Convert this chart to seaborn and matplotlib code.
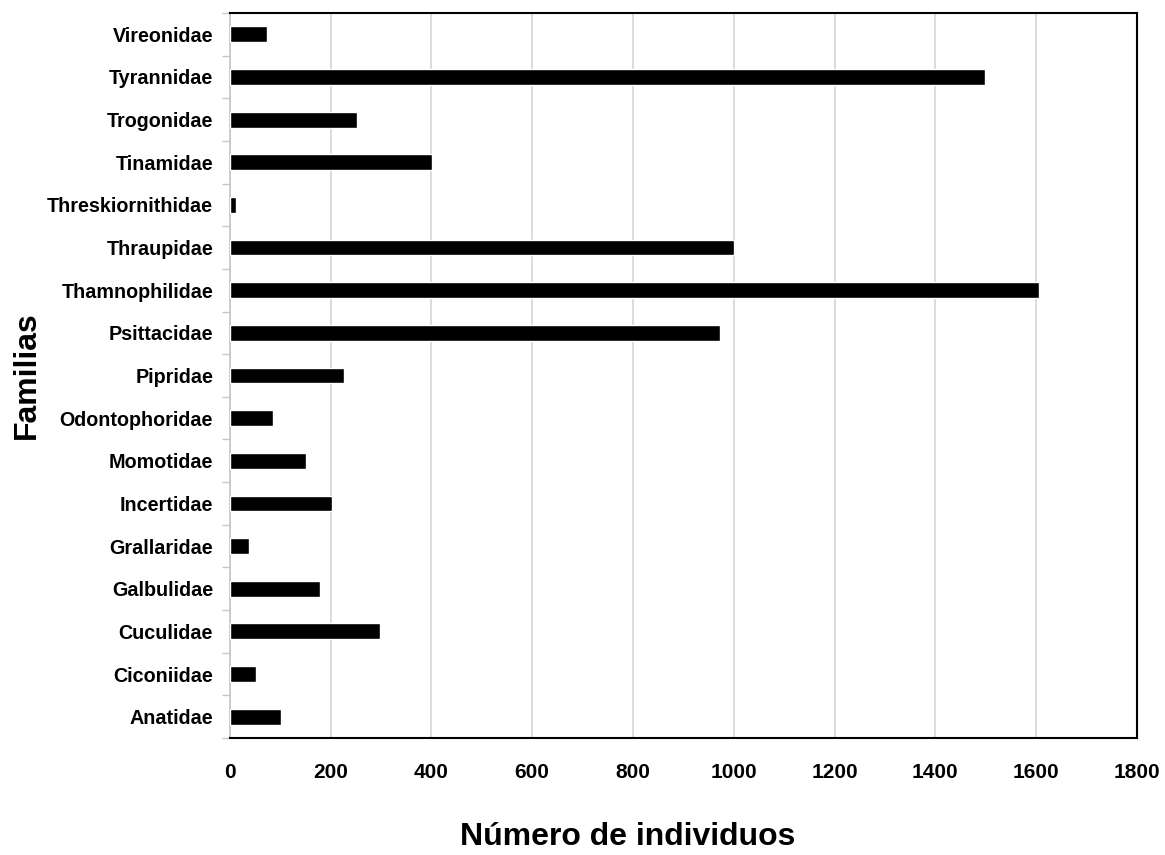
import matplotlib
matplotlib.use("Agg")
import matplotlib.pyplot as plt
import seaborn as sns
import numpy as np
import pandas as pd

# families, top to bottom as drawn
familias = ['Vireonidae', 'Tyrannidae', 'Trogonidae', 'Tinamidae', 'Threskiornithidae',
            'Thraupidae', 'Thamnophilidae', 'Psittacidae', 'Pipridae', 'Odontophoridae',
            'Momotidae', 'Incertidae', 'Grallaridae', 'Galbulidae', 'Cuculidae',
            'Ciconiidae', 'Anatidae']
individuos = [74, 1498, 253, 401, 12, 1000, 1606, 972, 226, 85,
              152, 202, 39, 179, 299, 53, 101]
x_ticks = [0, 200, 400, 600, 800, 1000, 1200, 1400, 1600, 1800]

df = pd.DataFrame({'Familias': familias, 'Individuos': individuos})

sns.set_style("white")
plt.rcParams['font.family'] = ['Liberation Sans', 'DejaVu Sans']
plt.rcParams['text.color'] = 'black'
plt.rcParams['axes.labelcolor'] = 'black'
plt.rcParams['xtick.color'] = 'black'
plt.rcParams['ytick.color'] = 'black'

fig = plt.figure(figsize=(11.65, 8.55), dpi=100)
ax = fig.add_axes([229.7 / 1165, 1 - 738 / 855, (1137 - 229.7) / 1165, (738 - 13) / 855])

sns.barplot(data=df, x='Individuos', y='Familias', orient='h', color='black',
            width=0.37, saturation=1, ax=ax, zorder=3)

ax.set_xlim(0, 1800)
ax.set_ylim(len(familias) - 0.5, -0.5)
ax.set_xticks(x_ticks)
ax.set_xticklabels([str(t) for t in x_ticks], fontsize=15, fontweight='bold')
ax.set_yticks(range(len(familias)))
ax.set_yticklabels(familias, fontsize=14.2, fontweight='bold')

# excel-style ticks between categories
ax.set_yticks(np.arange(-0.5, len(familias), 1), minor=True)
ax.tick_params(axis='y', which='major', length=0, pad=12)
ax.tick_params(axis='y', which='minor', length=6, color='#c8c8c8', width=1, left=True)
ax.tick_params(axis='x', which='major', length=0, pad=18)

ax.grid(axis='x', color='#d9d9d9', linewidth=1.3, zorder=0)
ax.set_axisbelow(True)

for side in ['top', 'right', 'bottom']:
    ax.spines[side].set_visible(True)
    ax.spines[side].set_color('black')
    ax.spines[side].set_linewidth(1.5)
ax.spines['left'].set_color('#c8c8c8')
ax.spines['left'].set_linewidth(1.3)

ax.set_xlabel('Número de individuos', fontsize=23, fontweight='bold')
ax.xaxis.set_label_coords((628 - 229.7) / 907.3, -(845 - 738) / 725)
ax.xaxis.label.set_va('baseline')
ax.set_ylabel('Familias', fontsize=23, fontweight='bold', labelpad=4)

fig.savefig('out.png', dpi=100)
